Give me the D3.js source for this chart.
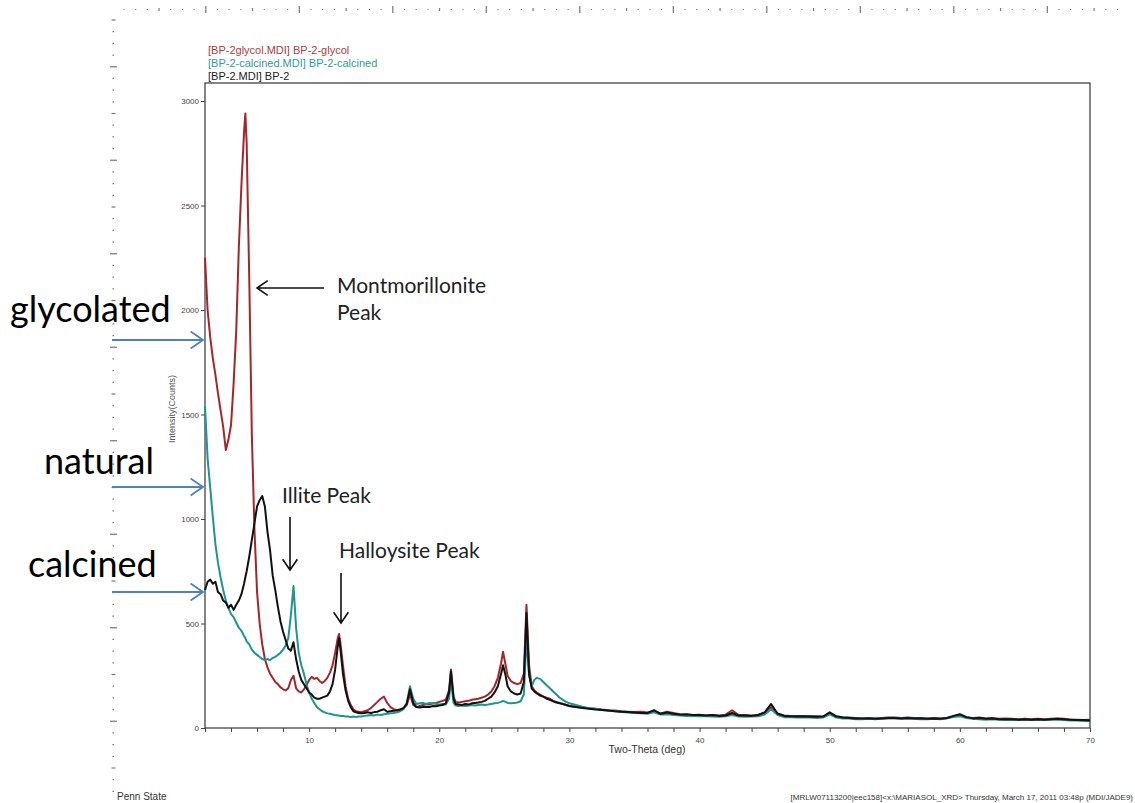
<!DOCTYPE html>
<html>
<head>
<meta charset="utf-8">
<script src="https://cdn.jsdelivr.net/npm/d3@7"></script>
<style>
  body { margin: 0; background: #fff; }
  svg { display: block; }
</style>
</head>
<body>
<div id="graph"></div>
<script>
// two-theta positions (deg) shared by the three scans
const theta = [
  2.0, 2.2, 2.4, 2.6, 2.8, 3.0, 3.2, 3.4, 3.6, 3.8, 4.0, 4.2, 4.4, 4.6, 4.8, 5.0, 5.1, 5.2, 5.4, 5.6, 5.8,
  6.0, 6.2, 6.4, 6.6, 6.8, 7.0, 7.2, 7.4, 7.6, 7.8, 8.0, 8.2, 8.4, 8.6, 8.8, 9.0, 9.2, 9.4, 9.6, 9.8,
  10.0, 10.2, 10.4, 10.6, 10.8, 11.0, 11.2, 11.4, 11.6, 11.8, 12.0, 12.2, 12.3, 12.4, 12.6, 12.8,
  13.0, 13.2, 13.4, 13.6, 13.8, 14.0,
  14.25, 14.5, 14.75, 15.0, 15.25, 15.5, 15.75, 16.0, 16.25, 16.5, 16.75, 17.0, 17.25, 17.5, 17.75,
  18.0, 18.25, 18.5, 18.75, 19.0, 19.25, 19.5, 19.75, 20.0, 20.25, 20.5, 20.75, 20.9, 21.1, 21.25,
  21.5, 21.75, 22.0, 22.25, 22.5, 22.75, 23.0, 23.25, 23.5, 23.75, 24.0, 24.25, 24.5, 24.75, 24.9,
  25.1, 25.25, 25.5, 25.75, 26.0, 26.25, 26.5, 26.7, 26.9, 27.1, 27.3, 27.5, 27.75, 28.0, 28.25,
  28.5, 28.75, 29.0, 29.25, 29.5, 29.75, 30.0,
  30.5, 31.0, 31.5, 32.0, 32.5, 33.0, 33.5, 34.0, 34.5, 35.0, 35.5, 36.0, 36.5, 37.0, 37.5, 38.0,
  38.5, 39.0, 39.5, 40.0, 40.5, 41.0, 41.5, 42.0, 42.5, 43.0, 43.5, 44.0, 44.5, 45.0, 45.5, 46.0,
  46.5, 47.0, 47.5, 48.0, 48.5, 49.0, 49.5, 50.0, 50.5, 51.0, 51.5, 52.0, 52.5, 53.0, 53.5, 54.0,
  54.5, 55.0, 55.5, 56.0, 56.5, 57.0, 57.5, 58.0, 58.5, 59.0, 59.5, 60.0, 60.5, 61.0, 61.5, 62.0,
  62.5, 63.0, 63.5, 64.0, 64.5, 65.0, 65.5, 66.0, 66.5, 67.0, 67.5, 68.0, 68.5, 69.0, 69.5, 70.0
];

// BP-2-glycol (counts)
const glycol = [
  2250, 2000, 1870, 1770, 1690, 1600, 1520, 1440, 1330, 1380, 1450, 1650, 1900, 2300, 2600, 2850, 2940, 2800, 2150, 1400, 950,
  650, 500, 400, 330, 290, 260, 240, 220, 210, 195, 185, 180, 190, 230, 250, 190, 175, 170, 185, 205,
  230, 245, 235, 240, 225, 215, 225, 240, 265, 300, 360, 430, 450, 410, 300, 200,
  140, 110, 90, 80, 78, 75,
  80, 85, 95, 110, 125, 140, 150, 120, 100, 90, 85, 90, 95, 110, 160,
  110, 100, 105, 110, 115, 112, 118, 120, 125, 130, 135, 180, 280, 150, 125,
  122, 125, 128, 130, 135, 138, 140, 145, 150, 160, 175, 200, 240, 310, 365,
  300, 250, 225, 215, 210, 215, 260, 590, 300, 200, 180, 170, 160, 150, 145,
  140, 130, 125, 120, 115, 110, 105,
  100, 98, 95, 92, 88, 85, 84, 80, 78, 76, 78, 74, 80, 70, 78, 72,
  66, 64, 62, 64, 60, 62, 60, 64, 85, 62, 62, 60, 62, 72, 100, 70,
  60, 58, 58, 56, 57, 56, 55, 70, 55, 52, 50, 48, 46, 48, 46, 48,
  50, 50, 48, 50, 48, 48, 46, 48, 46, 48, 55, 62, 52, 48, 50, 46,
  48, 44, 46, 44, 42, 44, 42, 44, 42, 44, 46, 44, 40, 40, 38, 40
];

// BP-2-calcined (counts)
const calcined = [
  1540, 1290, 1150, 1010, 880, 790, 720, 660, 610, 575, 545, 530, 505, 480, 465, 440, 430, 415, 400, 375, 360,
  350, 340, 330, 325, 330, 325, 335, 340, 350, 360, 375, 395, 430, 540, 680, 480, 360, 300, 260, 210,
  170, 140, 120, 100, 90, 80, 75, 70, 68, 65, 62, 60, 60, 58, 58, 55,
  55, 52, 55, 52, 55, 55,
  58, 60, 62, 60, 64, 62, 66, 68, 70, 72, 75, 80, 90, 120, 200,
  140, 115, 118, 120, 115, 120, 118, 115, 112, 115, 112, 140, 230, 120, 108,
  105, 108, 105, 108, 110, 108, 110, 112, 110, 112, 115, 118, 120, 125, 130,
  125, 120, 118, 120, 122, 128, 160, 430, 250, 200, 230, 240, 235, 220, 205,
  190, 175, 160, 145, 135, 125, 118,
  110, 102, 95, 92, 86, 82, 80, 76, 74, 72, 70, 68, 75, 64, 66, 62,
  60, 58, 58, 56, 56, 55, 54, 56, 62, 55, 54, 55, 56, 65, 90, 62,
  52, 52, 50, 50, 50, 48, 50, 65, 50, 46, 45, 42, 42, 44, 42, 44,
  46, 46, 44, 45, 44, 42, 42, 44, 42, 46, 52, 56, 48, 44, 42, 40,
  42, 40, 38, 40, 38, 40, 38, 38, 38, 40, 40, 38, 36, 36, 34, 34
];

// BP-2 natural (counts)
const natural = [
  660, 700, 710, 690, 700, 650, 640, 610, 600, 575, 590, 565, 590, 610, 640, 690, 720, 750, 820, 900, 980,
  1060, 1090, 1110, 1060, 940, 850, 730, 660, 580, 510, 460, 420, 380, 370, 410, 330, 270, 230, 210, 190,
  170, 160, 145, 140, 140, 145, 150, 155, 175, 210, 280, 390, 430, 380, 260, 180,
  130, 100, 80, 75, 72, 70,
  72, 75, 72, 76, 78, 85, 90, 78, 80, 82, 85, 88, 95, 115, 185,
  120, 100, 98, 100, 102, 100, 105, 104, 108, 110, 118, 170, 270, 140, 115,
  112, 110, 115, 112, 118, 120, 122, 125, 130, 140, 150, 170, 200, 260, 300,
  250, 200, 175, 165, 160, 165, 220, 550, 260, 190, 175, 165, 155, 150, 140,
  135, 128, 122, 118, 115, 110, 105,
  100, 96, 92, 88, 86, 84, 80, 78, 76, 74, 72, 72, 85, 68, 74, 68,
  64, 66, 62, 62, 60, 62, 58, 60, 72, 60, 60, 58, 62, 75, 115, 68,
  58, 56, 55, 56, 54, 54, 55, 75, 56, 50, 48, 46, 45, 46, 44, 46,
  48, 48, 46, 48, 46, 46, 44, 46, 44, 48, 58, 66, 52, 46, 48, 44,
  45, 42, 42, 42, 40, 42, 40, 42, 40, 42, 44, 42, 40, 38, 38, 36
];

const seriesNames = ["[BP-2glycol.MDI] BP-2-glycol", "[BP-2-calcined.MDI] BP-2-calcined", "[BP-2.MDI] BP-2"];
const yTicks = [0, 500, 1000, 1500, 2000, 2500, 3000];
const xTicks = [10, 20, 30, 40, 50, 60, 70];

const sideLabels = ["glycolated", "natural", "calcined"];
const peakLabels = ["Montmorillonite", "Illite Peak", "Halloysite Peak"];

const fullwidth = 1135;
const fullheight = 803;
const plotLeft = 205, plotRight = 1090, plotTop = 83, plotBottom = 728;

const svg = d3.select("#graph").
append("svg").
attr("width", fullwidth).
attr("height", fullheight);

// ruler dots along top and left (slide background)
const rulerStep = 93.5 / 8;
const topDots = d3.range(0, 86).map(i => 124 + i * rulerStep).filter(x => x < fullwidth);
svg.selectAll(".rtop").
data(topDots).
enter().
append("line").
attr("x1", d => d).attr("x2", d => d).
attr("y1", (d, i) => (i + 1) % 8 == 0 ? 6 : ((i + 1) % 4 == 0 ? 8 : 9)).
attr("y2", (d, i) => (i + 1) % 8 == 0 ? 13 : ((i + 1) % 4 == 0 ? 11 : 10)).
attr("stroke", "#777").
attr("stroke-width", 1.2);

const leftDots = d3.range(0, 68).map(i => 20 + i * rulerStep).filter(y => y < 795);
svg.selectAll(".rleft").
data(leftDots).
enter().
append("line").
attr("y1", d => d).attr("y2", d => d).
attr("x1", (d, i) => (i + 4) % 8 == 0 ? 110 : ((i + 4) % 4 == 0 ? 111.5 : 112.5)).
attr("x2", (d, i) => (i + 4) % 8 == 0 ? 117 : ((i + 4) % 4 == 0 ? 115.5 : 114)).
attr("stroke", "#777").
attr("stroke-width", 1.2);

const xScale = d3.scaleLinear().
domain([2, 70]).
range([plotLeft, plotRight]);

const yScale = d3.scaleLinear().
domain([0, 3000]).
range([plotBottom, 101]);

// plot frame
svg.append("rect").
attr("x", plotLeft).
attr("y", plotTop).
attr("width", plotRight - plotLeft).
attr("height", plotBottom - plotTop).
attr("fill", "none").
attr("stroke", "#444").
attr("stroke-width", 1.3);

const yAxis = d3.axisLeft(yScale).tickValues(yTicks).tickSize(4).tickPadding(2).tickFormat(d3.format("d"));
const gy = svg.append("g").
attr("transform", "translate(" + plotLeft + ",0)").
call(yAxis);
gy.select(".domain").remove();
gy.selectAll("text").attr("font-family", "Liberation Sans, Arial, sans-serif").attr("font-size", 8).attr("fill", "#444");
gy.selectAll("line").attr("stroke", "#444");

const xAxis = d3.axisBottom(xScale).tickValues(d3.range(2, 71, 2)).tickSize(4).tickPadding(5).
tickFormat(d => xTicks.indexOf(d) >= 0 ? d : "");
const gx = svg.append("g").
attr("transform", "translate(0," + plotBottom + ")").
call(xAxis);
gx.select(".domain").remove();
gx.selectAll("text").attr("font-family", "Liberation Sans, Arial, sans-serif").attr("font-size", 8).attr("fill", "#444");
gx.selectAll("line").attr("stroke", "#444");

svg.append("text").
attr("transform", "translate(175,409) rotate(-90)").
attr("text-anchor", "middle").
attr("font-family", "Liberation Sans, Arial, sans-serif").
attr("font-size", 9).
attr("fill", "#555").
text("Intensity(Counts)");

svg.append("text").
attr("x", 647).
attr("y", 753).
attr("text-anchor", "middle").
attr("font-family", "Liberation Sans, Arial, sans-serif").
attr("font-size", 10.5).
attr("fill", "#333").
text("Two-Theta (deg)");

// scans
const series = [
  { values: glycol, color: "#a3262b", width: 2 },
  { values: calcined, color: "#1d9590", width: 2 },
  { values: natural, color: "#111111", width: 2 }
];
const line = d3.line().
x((d, i) => xScale(theta[i])).
y(d => yScale(d));

svg.selectAll(".scan").
data(series).
enter().
append("path").
attr("class", "scan").
attr("d", d => line(d.values)).
attr("fill", "none").
attr("stroke", d => d.color).
attr("stroke-width", d => d.width).
attr("stroke-linejoin", "round");

// legend
const legendColors = ["#b0393d", "#2a9e9a", "#222"];
svg.selectAll(".legend").
data(seriesNames).
enter().
append("text").
attr("x", 208).
attr("y", (d, i) => 54 + i * 13).
attr("font-family", "Liberation Sans, Arial, sans-serif").
attr("font-size", 11).
attr("fill", (d, i) => legendColors[i]).
text(d => d);

// footer
svg.append("text").
attr("x", 117).
attr("y", 800).
attr("font-family", "Liberation Sans, Arial, sans-serif").
attr("font-size", 10).
attr("fill", "#333").
text("Penn State");

svg.append("text").
attr("x", 1133).
attr("y", 800).
attr("text-anchor", "end").
attr("font-family", "Liberation Sans, Arial, sans-serif").
attr("font-size", 8).
attr("fill", "#333").
text("[MRLW07113200|eec158]<x:\\MARIASOL_XRD> Thursday, March 17, 2011 03:48p (MDI/JADE9)");

// side labels with blue arrows
const sideY = [322, 474, 577];
const sideX = [10, 44, 28];
const arrowY = [340, 487, 592];
svg.selectAll(".side").
data(sideLabels).
enter().
append("text").
attr("x", (d, i) => sideX[i]).
attr("y", (d, i) => sideY[i]).
attr("font-family", "Lato, sans-serif").
attr("font-size", 36).
attr("fill", "#000").
text(d => d);

function arrow(x1, y1, x2, y2, color, w, head) {
  const ang = Math.atan2(y2 - y1, x2 - x1);
  const a1 = ang + Math.PI - 0.6, a2 = ang + Math.PI + 0.6;
  svg.append("path").
  attr("d", "M" + x1 + "," + y1 + "L" + x2 + "," + y2 +
  "M" + (x2 + head * Math.cos(a1)) + "," + (y2 + head * Math.sin(a1)) +
  "L" + x2 + "," + y2 +
  "L" + (x2 + head * Math.cos(a2)) + "," + (y2 + head * Math.sin(a2))).
  attr("fill", "none").
  attr("stroke", color).
  attr("stroke-width", w);
}
arrowY.forEach(y => arrow(112, y, 203, y, "#4f81bd", 1.8, 15));

// peak annotations
const annFont = "Lato, sans-serif";
svg.append("text").attr("x", 337).attr("y", 293).attr("font-family", annFont).attr("font-size", 21).attr("fill", "#222").text(peakLabels[0]);
svg.append("text").attr("x", 337).attr("y", 320).attr("font-family", annFont).attr("font-size", 21).attr("fill", "#222").text("Peak");
svg.append("text").attr("x", 282).attr("y", 503).attr("font-family", annFont).attr("font-size", 21).attr("fill", "#222").text(peakLabels[1]);
svg.append("text").attr("x", 339).attr("y", 558).attr("font-family", annFont).attr("font-size", 21).attr("fill", "#222").text(peakLabels[2]);

arrow(324, 288, 257, 288, "#111", 1.6, 13);
arrow(290, 517, 290, 570, "#111", 1.6, 13);
arrow(341, 573, 341, 623, "#111", 1.6, 13);
</script>
</body>
</html>
